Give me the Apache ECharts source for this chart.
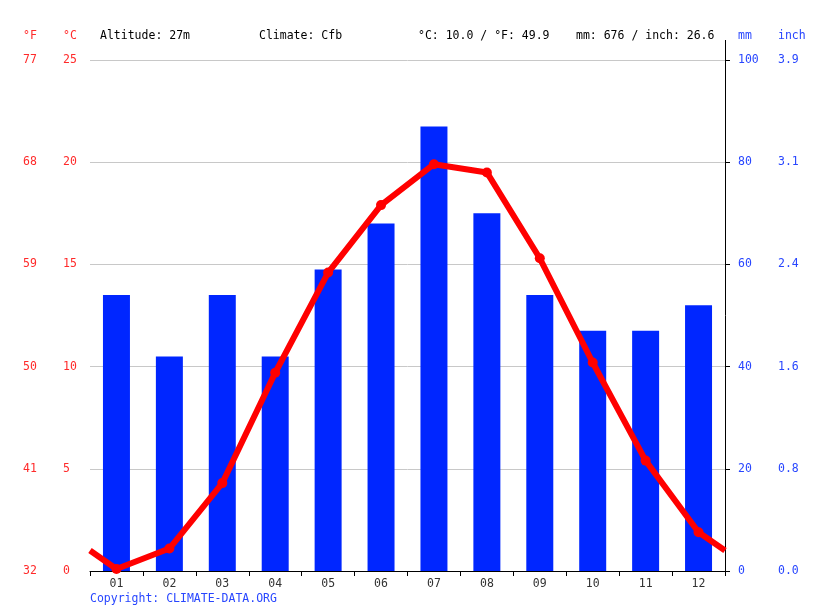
<!DOCTYPE html>
<html><head><meta charset="utf-8">
<script src="https://cdn.jsdelivr.net/npm/echarts@6/dist/echarts.min.js"></script>
<style>html,body{margin:0;padding:0;background:#fff}#c{width:815px;height:611px}</style>
</head><body><div id="c"></div>
<script>
const months = ['01','02','03','04','05','06','07','08','09','10','11','12'];
const precipMm = [54, 42, 54, 42, 59, 68, 87, 70, 54, 47, 47, 52];
const tempC = [0.1, 1.1, 4.3, 9.7, 14.6, 17.9, 19.9, 19.5, 15.3, 10.2, 5.4, 1.9];
const tempEdgeStart = 1.0;
const tempEdgeEnd = 1.0;
const headerTexts = ['Altitude: 27m', 'Climate: Cfb', '°C: 10.0 / °F: 49.9', 'mm: 676 / inch: 26.6'];

const FONT = 'DejaVu Sans Mono';
const RED = '#ff2a2a';
const BLUE = '#2846ff';
const chart = echarts.init(document.getElementById('c'), null, {renderer:'canvas'});

const lineData = [{value:[0, tempEdgeStart], symbol:'none'}];
tempC.forEach((t,i)=>lineData.push([i+0.5, t]));
lineData.push({value:[months.length, tempEdgeEnd], symbol:'none'});

const txt = (x,y,t,color)=>({type:'text', left:x, top:y, style:{text:t, fill:color, font:'11.5px "'+FONT+'"'}});

chart.setOption({
  animation:false,
  grid:{left:90, right:90, top:60, bottom:40},
  xAxis:[
    {type:'category', data:months, boundaryGap:true,
     axisLine:{lineStyle:{color:'#000', width:1}},
     axisTick:{show:true, length:5, lineStyle:{color:'#000'}},
     axisLabel:{color:'#333', fontFamily:FONT, fontSize:11.5, margin:7}},
    {type:'value', min:0, max:12, show:false}
  ],
  yAxis:[
    {type:'value', min:0, max:25, interval:5, position:'left',
     axisLine:{show:false}, axisTick:{show:false},
     splitLine:{lineStyle:{color:'#c8c8c8', width:1}},
     axisLabel:{color:RED, fontFamily:FONT, fontSize:11.5, align:'left', margin:27}},
    {type:'value', min:0, max:25, interval:5, position:'left',
     axisLine:{show:false}, axisTick:{show:false}, splitLine:{show:false},
     axisLabel:{color:RED, fontFamily:FONT, fontSize:11.5, align:'left', margin:67,
       formatter:v=>String(Math.round(v*9/5+32))}},
    {type:'value', min:0, max:100, interval:20, position:'right',
     axisLine:{show:true, lineStyle:{color:'#000'}},
     axisTick:{show:true, length:5, lineStyle:{color:'#000'}}, splitLine:{show:false},
     axisLabel:{color:BLUE, fontFamily:FONT, fontSize:11.5, align:'left', margin:13}},
    {type:'value', min:0, max:100, interval:20, position:'right',
     axisLine:{show:false}, axisTick:{show:false}, splitLine:{show:false},
     axisLabel:{color:BLUE, fontFamily:FONT, fontSize:11.5, align:'left', margin:53,
       formatter:v=>(v/25.4).toFixed(1)}}
  ],
  series:[
    {type:'bar', data:precipMm, xAxisIndex:0, yAxisIndex:2, barWidth:'51%',
     itemStyle:{color:'#0026ff'}, z:2},
    {type:'line', data:lineData, xAxisIndex:1, yAxisIndex:0,
     lineStyle:{color:'#ff0000', width:6}, itemStyle:{color:'#ff0000'},
     symbol:'circle', symbolSize:10, z:3}
  ],
  graphic:[
    txt(23,30,'°F',RED), txt(63,30,'°C',RED),
    txt(100,30,headerTexts[0],'#000'), txt(259,30,headerTexts[1],'#000'),
    txt(418,30,headerTexts[2],'#000'), txt(576,30,headerTexts[3],'#000'),
    txt(738,30,'mm',BLUE), txt(778,30,'inch',BLUE),
    txt(90,593,'Copyright: CLIMATE-DATA.ORG',BLUE),
    {type:'line', shape:{x1:725.5,y1:40,x2:725.5,y2:60}, style:{stroke:'#000', lineWidth:1}}
  ]
});
</script></body></html>
